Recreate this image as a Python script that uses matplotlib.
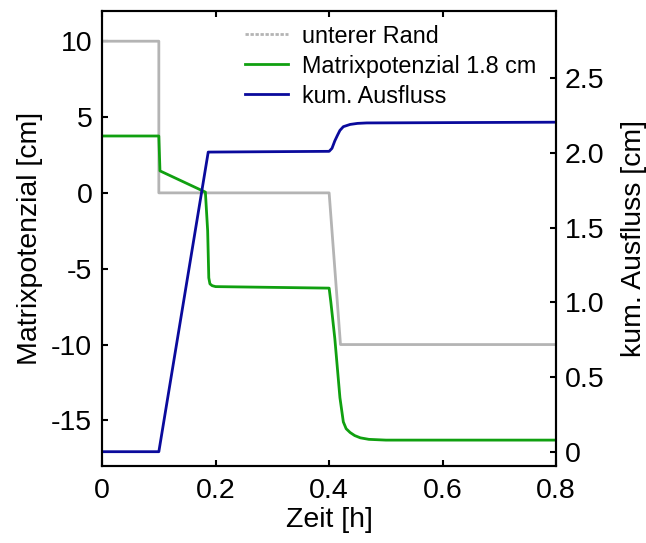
import matplotlib
matplotlib.use('Agg')
import matplotlib.pyplot as plt
from matplotlib.lines import Line2D

# lower boundary condition (Matrixpotenzial axis)
t_rand = [0, 0.1, 0.1, 0.4, 0.42, 0.8]
rand = [10, 10, 0, 0, -10, -10]

# matric potential at 1.8 cm
t_psi = [0, 0.1, 0.102, 0.182, 0.186, 0.188, 0.190, 0.194, 0.2, 0.4,
         0.403, 0.41, 0.419, 0.425, 0.43, 0.437, 0.445, 0.455, 0.47, 0.5, 0.8]
psi = [3.75, 3.75, 1.45, 0.05, -2.5, -5.6, -6.0, -6.12, -6.18, -6.28,
       -7.2, -9.6, -13.5, -15.1, -15.55, -15.8, -16.0, -16.15, -16.25, -16.3, -16.3]

# cumulative outflow (right axis)
t_q = [0, 0.1, 0.187, 0.4, 0.405, 0.41, 0.415, 0.419, 0.425, 0.437, 0.45, 0.466, 0.8]
q = [0, 0, 2.005, 2.01, 2.03, 2.08, 2.12, 2.15, 2.175, 2.19, 2.197, 2.2, 2.205]

x_ticks = [0, 0.2, 0.4, 0.6, 0.8]
x_labels = ['0', '0.2', '0.4', '0.6', '0.8']
y_ticks = [-15, -10, -5, 0, 5, 10]
y2_ticks = [0, 0.5, 1.0, 1.5, 2.0, 2.5]
y2_labels = ['0', '0.5', '1.0', '1.5', '2.0', '2.5']

plt.rcParams['font.family'] = ['Liberation Sans', 'DejaVu Sans']
plt.rcParams['axes.unicode_minus'] = False

c_gray = '#b4b4b4'
c_green = '#10a010'
c_blue = '#0a0a9c'
fs = 20.5

fig = plt.figure(figsize=(6.46, 5.43), dpi=100)
ax = fig.add_axes([0.158, 0.142, 0.703, 0.838])
ax2 = ax.twinx()

ax.plot(t_rand, rand, color=c_gray, lw=2)
ax.plot(t_psi, psi, color=c_green, lw=2)
ax2.plot(t_q, q, color=c_blue, lw=2)

ax.set_xlim(0, 0.8)
ax.set_ylim(-18, 12)
ax2.set_ylim(-0.095, 2.95)

ax.set_xticks(x_ticks)
ax.set_xticklabels(x_labels)
ax.set_yticks(y_ticks)
ax2.set_yticks(y2_ticks)
ax2.set_yticklabels(y2_labels)

ax.tick_params(axis='x', direction='in', top=True, length=4, width=1.5,
               labelsize=fs, pad=9)
ax.tick_params(axis='y', direction='in', right=False, length=4, width=1.5,
               labelsize=fs, pad=7)
ax2.tick_params(axis='y', direction='in', length=4, width=1.5,
                labelsize=fs, pad=6)
for a in (ax, ax2):
    for sp in a.spines.values():
        sp.set_linewidth(1.5)

ax.set_xlabel('Zeit [h]', fontsize=fs, labelpad=2)
ax.set_ylabel('Matrixpotenzial [cm]', fontsize=fs, labelpad=6)
ax2.set_ylabel('kum. Ausfluss [cm]', fontsize=fs, labelpad=12)

handles = [
    Line2D([], [], color=c_gray, lw=2, linestyle=(0, (1.2, 0.6))),
    Line2D([], [], color=c_green, lw=2),
    Line2D([], [], color=c_blue, lw=2),
]
labels = ['unterer Rand', 'Matrixpotenzial 1.8 cm', 'kum. Ausfluss']
ax2.legend(handles, labels, loc='upper left', bbox_to_anchor=(0.365, 0.972),
           bbox_transform=fig.transFigure, frameon=False, fontsize=16.8,
           handlelength=1.85, handletextpad=0.6, labelspacing=0.3,
           borderpad=0.4, borderaxespad=0)

fig.savefig('out.png', dpi=100)
